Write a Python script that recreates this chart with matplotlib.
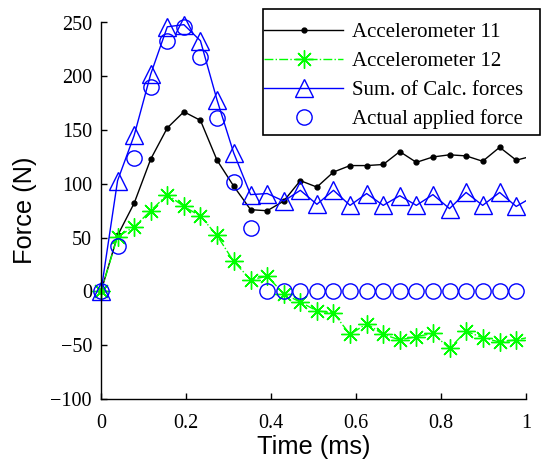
import numpy as np
import matplotlib
matplotlib.use("Agg")
import matplotlib.pyplot as plt
from matplotlib.lines import Line2D
from matplotlib.patches import Rectangle

# sample times (ms); last sample lies just past the axis limit
time_ms = [0.000, 0.039, 0.078, 0.117, 0.156, 0.195, 0.234, 0.273, 0.312,
           0.352, 0.391, 0.430, 0.469, 0.508, 0.547, 0.586, 0.625, 0.664,
           0.703, 0.742, 0.781, 0.820, 0.859, 0.898, 0.938, 0.977, 1.016]

accel_11 = [0, 52, 82, 123, 152, 167, 159, 122, 98, 76, 75, 84, 103, 97,
            111, 117, 117, 118, 130, 120, 125, 127, 126, 121, 134, 122, 126]

accel_12 = [0, 51, 60, 75, 90, 79, 70, 52, 28, 11, 14, -2, -10, -18,
            -20, -40, -30, -40, -45, -42, -39, -53, -37, -43, -47, -45, -42]

sum_calc = [0, 103, 145, 202, 246, 248, 233, 178, 129, 90, 91, 84, 94, 81,
            94, 80, 91, 80, 89, 80, 90, 77, 92, 80, 92, 79, 88]

actual_force = [0, 42, 124, 190, 233, 246, 218, 161, 102, 59, 0, 0, 0, 0,
                0, 0, 0, 0, 0, 0, 0, 0, 0, 0, 0, 0, 0]

labels = ["Accelerometer 11", "Accelerometer 12",
          "Sum. of Calc. forces", "Actual applied force"]

x_ticks = [0, 0.2, 0.4, 0.6, 0.8, 1]
x_ticklabels = ["0", "0.2", "0.4", "0.6", "0.8", "1"]
y_ticks = [-100, -50, 0, 50, 100, 150, 200, 250]

serif = "Liberation Serif"
sans = "Liberation Sans"
W, H = 543, 461

fig = plt.figure(figsize=(W / 100, H / 100), dpi=100)
ax = fig.add_axes([101 / W, 1 - 399 / H, 425 / W, 376.5 / H])

lime = (0, 1, 0)
blue = (0, 0, 1)
asterisk = (8, 2, 0)

styles = [
    dict(color="k", lw=1.0, ls="-", marker="o", ms=3.5, mfc="k", mec="k", mew=1.0),
    dict(color=lime, lw=1.0, ls="-.", marker=asterisk, ms=13, mfc=lime, mec=lime, mew=1.0),
    dict(color=blue, lw=1.0, ls="-", marker="^", ms=12.5, mfc="none", mec=blue, mew=1.0),
    dict(color=blue, lw=1.0, ls="none", marker="o", ms=11, mfc="none", mec=blue, mew=1.0),
]
series = [accel_11, accel_12, sum_calc, actual_force]

# markers inside the x-range are drawn unclipped (like the original);
# lines are clipped at the axis edge
t = np.array(time_ms)
inside = t <= 1.0
for st, y in zip(styles, series):
    y = np.array(y)
    if st["ls"] != "none":
        ax.plot(t, y, color=st["color"], lw=st["lw"], ls=st["ls"])
    ax.plot(t[inside], y[inside], ls="none", marker=st["marker"], ms=st["ms"],
            mfc=st["mfc"], mec=st["mec"], mew=st["mew"], clip_on=False)

ax.set_xlim(0, 1)
ax.set_ylim(-100, 250)
ax.set_xticks(x_ticks)
ax.set_xticklabels(x_ticklabels)
ax.set_yticks(y_ticks)
ax.spines["top"].set_visible(False)
ax.spines["right"].set_visible(False)
for s in ("left", "bottom"):
    ax.spines[s].set_linewidth(1.0)
ax.tick_params(direction="in", length=4, width=1.0)
ax.tick_params(axis="x", pad=11)
ax.tick_params(axis="y", pad=6.5)
for lab in ax.get_xticklabels() + ax.get_yticklabels():
    lab.set_family(serif)
    lab.set_fontsize(14.5)

ax.set_xlabel("Time (ms)", family=sans, fontsize=18.3, labelpad=1)
ax.set_ylabel("Force (N)", family=sans, fontsize=18.3, labelpad=10)

handles = [Line2D([], [], **st) for st in styles]
fs = 15
leg = ax.legend(handles, labels, loc="upper left",
                bbox_to_anchor=(264 / W, 1 - 22.5 / H),
                bbox_transform=fig.transFigure, borderaxespad=0,
                prop={"family": serif, "size": fs}, numpoints=1,
                handlelength=3.8, handletextpad=0.43, labelspacing=0.45,
                borderpad=0, frameon=False)

# legend border box
fig.patches.append(Rectangle((263 / W, 1 - 135 / H), 277 / W, 126 / H,
                             transform=fig.transFigure, fill=False,
                             edgecolor="k", lw=1.2))

fig.savefig("out.png", dpi=100)
